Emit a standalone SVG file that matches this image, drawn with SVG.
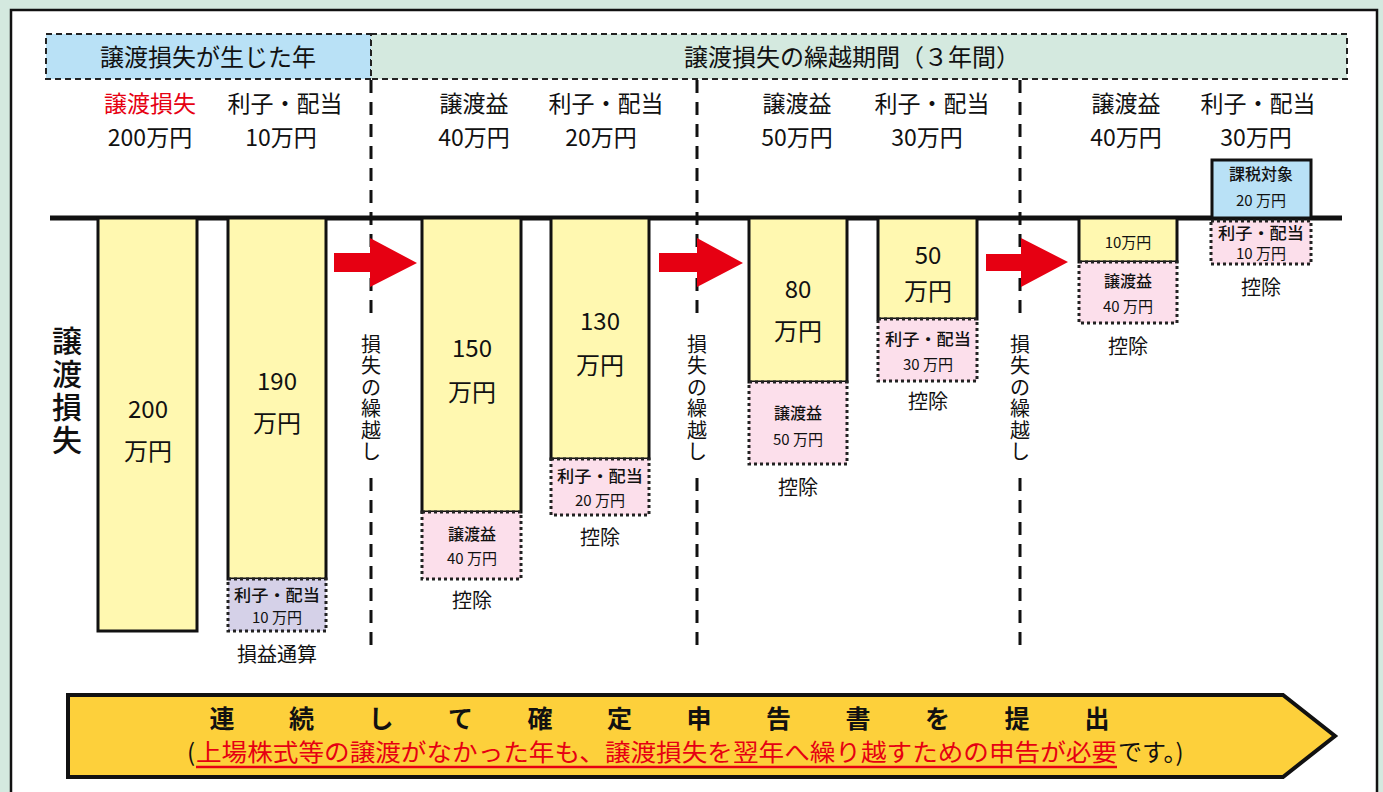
<svg xmlns="http://www.w3.org/2000/svg" width="1383" height="792" viewBox="0 0 1383 792">
<defs>
<style>
text{font-family:"Noto Sans CJK JP","Noto Sans",sans-serif;fill:#111;}
.lbl{font-size:23px;text-anchor:middle;}
.big{font-size:24px;text-anchor:middle;}
.sm{font-size:16px;text-anchor:middle;font-weight:500;}
.xs{font-size:15px;text-anchor:middle;}
.kj{font-size:20px;text-anchor:middle;}
.vt{font-size:20px;text-anchor:middle;}
.bar{fill:#fff8b0;stroke:#111;stroke-width:3;}
.pink{fill:#fcdfeb;stroke:#222;stroke-width:3;stroke-dasharray:3 3;}
.purple{fill:#d5d1e8;stroke:#222;stroke-width:3;stroke-dasharray:3 3;}
.vdash{stroke:#111;stroke-width:3;stroke-dasharray:13 9;fill:none;}
.arrow{fill:#e60012;}
</style>
</defs>
<rect x="0" y="0" width="1383" height="792" fill="#d4e9df"/>
<rect x="11" y="10" width="1366" height="800" fill="#fff" stroke="#111" stroke-width="2.5"/>

<g id="header-loss-year">
<rect x="46" y="34" width="325" height="45" fill="#b9e1f6" stroke="#222" stroke-width="2" stroke-dasharray="6 4"/>
<text x="208" y="66" style="font-size:24px;text-anchor:middle;">譲渡損失が生じた年</text>
</g>
<g id="header-carry">
<rect x="371" y="34" width="976" height="45" fill="#d4e9df" stroke="#222" stroke-width="2" stroke-dasharray="6 4"/>
<text x="852" y="66" style="font-size:24px;text-anchor:middle;">譲渡損失の繰越期間（３年間）</text>
</g>

<g id="connectors">
<line class="vdash" x1="371" y1="80" x2="371" y2="322"/>
<line class="vdash" x1="371" y1="478" x2="371" y2="650"/>
<line class="vdash" x1="697" y1="80" x2="697" y2="322"/>
<line class="vdash" x1="697" y1="478" x2="697" y2="650"/>
<line class="vdash" x1="1020" y1="80" x2="1020" y2="322"/>
<line class="vdash" x1="1020" y1="478" x2="1020" y2="650"/>
<line x1="50" y1="218" x2="1342" y2="218" stroke="#111" stroke-width="5"/>
<polygon class="arrow" points="334,253 370,253 370,238 417,263 370,287 370,272 334,272"/>
<polygon class="arrow" points="659,253 697,253 697,238 743,263 697,287 697,272 659,272"/>
<polygon class="arrow" points="986,254 1021,254 1021,238 1068,262 1021,287 1021,271 986,271"/>
</g>

<g id="carry-label-1">
<text class="vt" x="371 371 371 371 371 371" y="352 373 395 416 438 459">損失の繰越し</text>
</g>
<g id="carry-label-2">
<text class="vt" x="697 697 697 697 697 697" y="352 373 395 416 438 459">損失の繰越し</text>
</g>
<g id="carry-label-3">
<text class="vt" x="1020 1020 1020 1020 1020 1020" y="352 373 395 416 438 459">損失の繰越し</text>
</g>

<g id="side-label">
<text x="67 67 67 67" y="352 385 418 451" style="font-size:30px;text-anchor:middle;font-weight:500;">譲渡損失</text>
</g>

<g id="col1">
<text class="lbl" x="150" y="112" style="fill:#e60012;">譲渡損失</text>
<text class="lbl" x="150" y="146">200万円</text>
<rect class="bar" x="98" y="218" width="99" height="413"/>
<text class="big" x="148" y="418">200</text>
<text class="big" x="148" y="460">万円</text>
</g>

<g id="col2">
<text class="lbl" x="285" y="112">利子・配当</text>
<text class="lbl" x="281" y="146">10万円</text>
<rect class="bar" x="228" y="218" width="98" height="361"/>
<rect class="purple" x="228" y="579" width="98" height="52"/>
<text class="big" x="277" y="390">190</text>
<text class="big" x="277" y="432">万円</text>
<text class="sm" x="277" y="601" textLength="86" lengthAdjust="spacingAndGlyphs">利子・配当</text>
<text class="xs" x="277" y="623">10 万円</text>
<text class="kj" x="277" y="662">損益通算</text>
</g>

<g id="col3">
<text class="lbl" x="474" y="112">譲渡益</text>
<text class="lbl" x="474" y="146">40万円</text>
<rect class="bar" x="422" y="218" width="99" height="294"/>
<rect class="pink" x="422" y="512" width="99" height="67"/>
<text class="big" x="472" y="357">150</text>
<text class="big" x="472" y="401">万円</text>
<text class="sm" x="472" y="540">譲渡益</text>
<text class="xs" x="472" y="564">40 万円</text>
<text class="kj" x="472" y="608">控除</text>
</g>

<g id="col4">
<text class="lbl" x="606" y="112">利子・配当</text>
<text class="lbl" x="601" y="146">20万円</text>
<rect class="bar" x="551" y="218" width="98" height="241"/>
<rect class="pink" x="551" y="459" width="98" height="56"/>
<text class="big" x="600" y="330">130</text>
<text class="big" x="600" y="374">万円</text>
<text class="sm" x="600" y="482" textLength="86" lengthAdjust="spacingAndGlyphs">利子・配当</text>
<text class="xs" x="600" y="506">20 万円</text>
<text class="kj" x="600" y="545">控除</text>
</g>

<g id="col5">
<text class="lbl" x="797" y="112">譲渡益</text>
<text class="lbl" x="797" y="146">50万円</text>
<rect class="bar" x="749" y="218" width="98" height="164"/>
<rect class="pink" x="749" y="382" width="98" height="82"/>
<text class="big" x="798" y="298">80</text>
<text class="big" x="798" y="340">万円</text>
<text class="sm" x="798" y="419">譲渡益</text>
<text class="xs" x="798" y="445">50 万円</text>
<text class="kj" x="798" y="495">控除</text>
</g>

<g id="col6">
<text class="lbl" x="932" y="112">利子・配当</text>
<text class="lbl" x="927" y="146">30万円</text>
<rect class="bar" x="878" y="218" width="99" height="101"/>
<rect class="pink" x="878" y="319" width="99" height="62"/>
<text class="big" x="928" y="264">50</text>
<text class="big" x="928" y="300">万円</text>
<text class="sm" x="928" y="345" textLength="86" lengthAdjust="spacingAndGlyphs">利子・配当</text>
<text class="xs" x="928" y="370">30 万円</text>
<text class="kj" x="928" y="409">控除</text>
</g>

<g id="col7">
<text class="lbl" x="1126" y="112">譲渡益</text>
<text class="lbl" x="1126" y="146">40万円</text>
<rect class="bar" x="1079" y="218" width="98" height="44"/>
<rect class="pink" x="1079" y="262" width="98" height="61"/>
<text class="xs" x="1128" y="248">10万円</text>
<text class="sm" x="1128" y="287">譲渡益</text>
<text class="xs" x="1128" y="312">40 万円</text>
<text class="kj" x="1128" y="354">控除</text>
</g>

<g id="col8">
<text class="lbl" x="1258" y="112">利子・配当</text>
<text class="lbl" x="1256" y="146">30万円</text>
<rect x="1212" y="160" width="99" height="58" fill="#b9e1f6" stroke="#111" stroke-width="3"/>
<text class="sm" x="1261" y="180">課税対象</text>
<text class="xs" x="1261" y="206">20 万円</text>
<rect class="pink" x="1211" y="221" width="100" height="43"/>
<text class="sm" x="1261" y="239" textLength="86" lengthAdjust="spacingAndGlyphs">利子・配当</text>
<text class="xs" x="1261" y="259">10 万円</text>
<text class="kj" x="1261" y="295">控除</text>
</g>

<g id="filing-arrow">
<polygon points="68,695 1283,695 1335,736 1283,777 68,777" fill="#fdd03b" stroke="#111" stroke-width="4"/>
<text x="222 301.5 381 460.5 540 619.5 699 778.5 858 937.5 1017 1097" y="728" style="font-size:25px;text-anchor:middle;font-weight:700;">連続して確定申告書を提出</text>
<text x="187" y="761" style="font-size:24px;">(</text>
<text x="196" y="761" textLength="921" lengthAdjust="spacingAndGlyphs" style="font-size:24px;fill:#e60012;">上場株式等の譲渡がなかった年も、譲渡損失を翌年へ繰り越すための申告が必要</text>
<text x="1118" y="761" style="font-size:24px;">です。)</text>
<line x1="196" y1="767" x2="1117" y2="767" stroke="#e60012" stroke-width="2.5"/>
</g>
</svg>
